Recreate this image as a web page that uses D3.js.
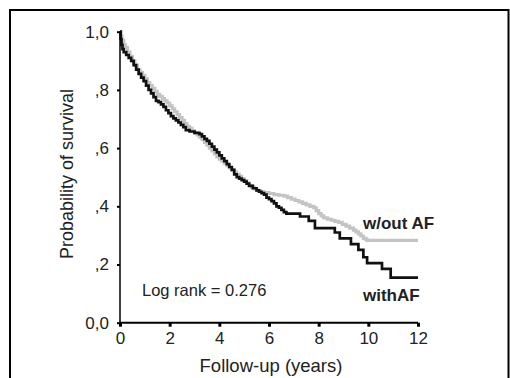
<!DOCTYPE html>
<html><head><meta charset="utf-8">
<script src="https://cdn.jsdelivr.net/npm/d3@7"></script>
<style>body{margin:0;background:#fff}svg{display:block}text{font-family:"Liberation Sans",Arial,Helvetica,sans-serif}</style>
</head><body>
<script>
const xTicks = [0, 2, 4, 6, 8, 10, 12];
const yTicks = [0, 0.2, 0.4, 0.6, 0.8, 1.0];
const yTickLabels = ["0,0", ",2", ",4", ",6", ",8", "1,0"];
const seriesNames = ["w/out AF", "withAF"];
const withoutAF_t = [0,0.03,0.08,0.15,0.22,0.3,0.4,0.5,0.6,0.7,0.8,0.9,1.0,1.1,1.2,1.3,1.4,1.5,1.6,1.7,1.8,1.9,2.0,2.1,2.2,2.3,2.4,2.5,2.6,2.7,2.8,2.9,3.0,3.1,3.2,3.3,3.4,3.5,3.6,3.7,3.8,3.9,4.0,4.1,4.2,4.3,4.4,4.5,4.6,4.7,4.8,4.9,5.0,5.1,5.2,5.3,5.4,5.5,5.65,5.8,6.0,6.2,6.4,6.6,6.75,6.9,7.05,7.2,7.35,7.5,7.65,7.8,7.9,8.0,8.1,8.2,8.35,8.5,8.65,8.8,8.95,9.1,9.25,9.4,9.5,9.6,9.7,9.8,9.9,9.95,12];
const withoutAF_s = [1.0,0.985,0.97,0.955,0.945,0.93,0.915,0.9,0.885,0.87,0.86,0.85,0.838,0.825,0.815,0.805,0.795,0.785,0.778,0.77,0.762,0.755,0.745,0.735,0.725,0.715,0.705,0.695,0.685,0.675,0.668,0.66,0.652,0.645,0.638,0.63,0.62,0.61,0.6,0.59,0.58,0.57,0.562,0.555,0.548,0.54,0.532,0.525,0.518,0.51,0.503,0.495,0.488,0.48,0.472,0.465,0.46,0.455,0.45,0.447,0.444,0.44,0.438,0.435,0.43,0.425,0.42,0.415,0.41,0.405,0.4,0.395,0.385,0.375,0.367,0.36,0.356,0.352,0.348,0.345,0.338,0.332,0.325,0.318,0.312,0.305,0.298,0.29,0.286,0.283,0.283];
const withAF_t = [0,0.03,0.06,0.1,0.15,0.25,0.35,0.45,0.55,0.65,0.75,0.85,0.95,1.05,1.15,1.25,1.35,1.45,1.55,1.65,1.75,1.85,1.95,2.05,2.15,2.25,2.35,2.45,2.55,2.65,2.8,3.0,3.2,3.3,3.4,3.5,3.6,3.7,3.8,3.9,4.0,4.1,4.2,4.3,4.4,4.5,4.6,4.7,4.8,4.9,5.0,5.1,5.2,5.35,5.5,5.6,5.7,5.8,5.9,6.0,6.1,6.2,6.3,6.4,6.5,6.6,6.7,7.25,7.6,7.85,8.65,8.85,9.3,9.6,9.8,9.95,10.55,10.9,12];
const withAF_s = [1.0,0.975,0.955,0.94,0.93,0.92,0.91,0.9,0.885,0.87,0.855,0.842,0.83,0.815,0.8,0.788,0.775,0.762,0.758,0.75,0.742,0.73,0.72,0.71,0.702,0.695,0.688,0.68,0.672,0.662,0.657,0.652,0.648,0.64,0.632,0.625,0.615,0.605,0.595,0.585,0.575,0.565,0.555,0.545,0.535,0.525,0.51,0.5,0.495,0.49,0.485,0.478,0.47,0.462,0.455,0.45,0.445,0.44,0.43,0.425,0.418,0.41,0.4,0.395,0.388,0.38,0.375,0.365,0.35,0.325,0.31,0.29,0.27,0.25,0.225,0.205,0.185,0.155,0.155];

const W = 510, H = 378;
const svg = d3.select("body").append("svg").attr("width", W).attr("height", H);
svg.append("rect").attr("x", 10).attr("y", 10).attr("width", 498.5).attr("height", 380)
  .attr("fill", "none").attr("stroke", "#000").attr("stroke-width", 2);

const x = d3.scaleLinear().domain([0, 12]).range([120, 418]);
const y = d3.scaleLinear().domain([0, 1]).range([322.7, 31.7]);

const line = d3.line().x(d => x(d[0])).y(d => y(d[1])).curve(d3.curveStepAfter);
const g1 = withoutAF_t.map((t, i) => [t, withoutAF_s[i]]);
const g2 = withAF_t.map((t, i) => [t, withAF_s[i]]);
svg.append("path").attr("d", line(g1)).attr("fill", "none").attr("stroke", "#c4c4c4").attr("stroke-width", 3.2);
svg.append("path").attr("d", line(g2)).attr("fill", "none").attr("stroke", "#111").attr("stroke-width", 2.7);

const xAxis = d3.axisBottom(x).tickValues(xTicks).tickSize(4).tickPadding(5).tickFormat(d3.format("d"));
const gx = svg.append("g").attr("transform", `translate(0,${y(0)})`).call(xAxis);
gx.select(".domain").attr("stroke-width", 2).attr("d", `M${x(0)},0H${x(12)}`);
gx.selectAll(".tick line").attr("stroke-width", 3);
gx.selectAll(".tick text").attr("font-size", 17).attr("fill", "#222").attr("font-family", "Liberation Sans, Arial, sans-serif");

const yAxis = d3.axisLeft(y).tickValues(yTicks).tickSize(3).tickPadding(8).tickFormat((d, i) => yTickLabels[i]);
const gy = svg.append("g").attr("transform", `translate(${x(0)},0)`).call(yAxis);
gy.select(".domain").attr("stroke-width", 1.5).attr("d", `M0,${y(1)}V${y(0)}`);
gy.selectAll(".tick line").attr("stroke-width", 2);
gy.selectAll(".tick text").attr("font-size", 17).attr("fill", "#222").attr("font-family", "Liberation Sans, Arial, sans-serif");

svg.append("text").attr("x", 271).attr("y", 372).attr("text-anchor", "middle").attr("font-size", 18.5).attr("fill", "#222").text("Follow-up (years)");
svg.append("text").attr("transform", "translate(73,174) rotate(-90)").attr("text-anchor", "middle").attr("font-size", 18).attr("fill", "#222").text("Probability of survival");
svg.append("text").attr("x", 142).attr("y", 296).attr("font-size", 16.5).attr("fill", "#222").text("Log rank = 0.276");
svg.append("text").attr("x", 363).attr("y", 229).attr("font-size", 17).attr("font-weight", "bold").attr("fill", "#222").text(seriesNames[0]);
svg.append("text").attr("x", 363).attr("y", 301).attr("font-size", 17).attr("font-weight", "bold").attr("fill", "#222").text(seriesNames[1]);
</script>
</body></html>
